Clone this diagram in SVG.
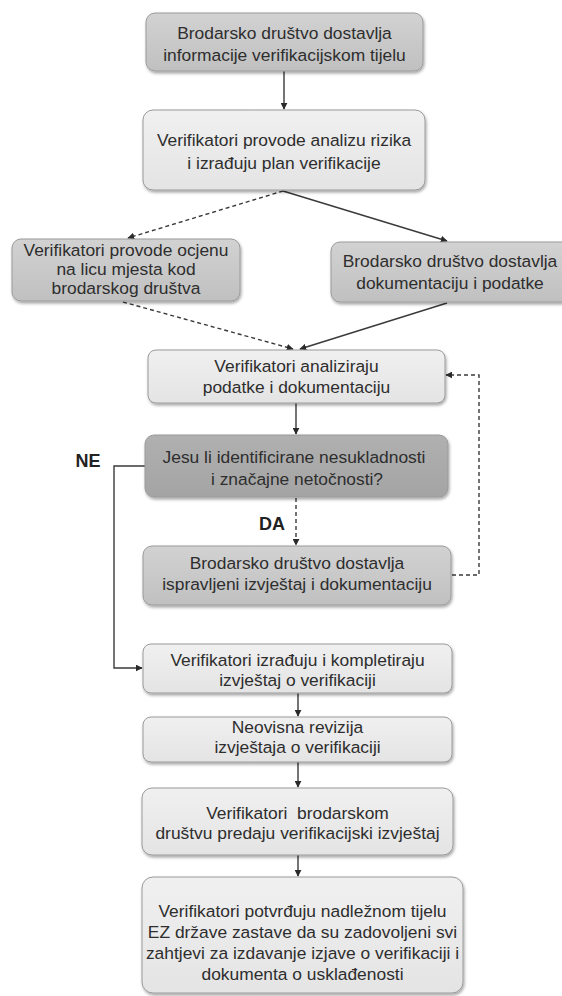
<svg xmlns="http://www.w3.org/2000/svg" width="562" height="996" viewBox="0 0 562 996">
<style>
  .box { stroke: #9a9a9a; stroke-width: 1; filter: url(#sh); }
  .mid { fill: url(#gMid); }
  .light { fill: url(#gLight); }
  .dark { fill: url(#gDark); }
  text { font-family: "Liberation Sans", Arial, sans-serif; font-size: 17.4px; fill: #2e2e2e; text-anchor: middle; }
  .lbl { font-weight: bold; font-size: 18px; fill: #222; }
  .ln { fill: none; stroke: #3a3a3a; stroke-width: 1.4; }
  .dash { stroke-dasharray: 4 3; }
</style>
<defs>
  <linearGradient id="gMid" x1="0" y1="0" x2="0" y2="1">
    <stop offset="0" stop-color="#d2d2d2"/>
    <stop offset="1" stop-color="#c0c0c0"/>
  </linearGradient>
  <linearGradient id="gLight" x1="0" y1="0" x2="0" y2="1">
    <stop offset="0" stop-color="#f0f0f0"/>
    <stop offset="1" stop-color="#e4e4e4"/>
  </linearGradient>
  <linearGradient id="gDark" x1="0" y1="0" x2="0" y2="1">
    <stop offset="0" stop-color="#b0b0b0"/>
    <stop offset="1" stop-color="#a4a4a4"/>
  </linearGradient>
  <filter id="sh" x="-10%" y="-10%" width="120%" height="130%">
    <feDropShadow dx="1" dy="2" stdDeviation="1.5" flood-color="#000" flood-opacity="0.35"/>
  </filter>
  <marker id="ah" viewBox="0 0 10 10" refX="9" refY="5" markerWidth="7" markerHeight="7" markerUnits="userSpaceOnUse" orient="auto">
    <path d="M0,0 L10,5 L0,10 z" fill="#2a2a2a"/>
  </marker>
</defs>

<g id="connectors">
  <path class="ln" d="M284,71 V109" marker-end="url(#ah)"/>
  <path class="ln dash" d="M283,191 L128,238" marker-end="url(#ah)"/>
  <path class="ln" d="M283,191 L447,241" marker-end="url(#ah)"/>
  <path class="ln dash" d="M123,302 L293,349" marker-end="url(#ah)"/>
  <path class="ln" d="M447,303 L300,349" marker-end="url(#ah)"/>
  <path class="ln" d="M296,403 V434" marker-end="url(#ah)"/>
  <path class="ln dash" d="M296,498 V545" marker-end="url(#ah)"/>
  <path class="ln" d="M145,466 H114 V668 H142" marker-end="url(#ah)"/>
  <path class="ln dash" d="M452,575 H479 V375 H446" marker-end="url(#ah)"/>
  <path class="ln" d="M298,693 V716" marker-end="url(#ah)"/>
  <path class="ln" d="M298,762 V787" marker-end="url(#ah)"/>
  <path class="ln" d="M298,855 V876" marker-end="url(#ah)"/>
  <text class="lbl" x="88" y="467">NE</text>
  <text class="lbl" x="272" y="530">DA</text>
</g>

<g id="n1">
  <rect class="box mid" x="146" y="13" width="277" height="58" rx="9"/>
  <text x="284.5" y="39">Brodarsko društvo dostavlja</text>
  <text x="284.5" y="61">informacije verifikacijskom tijelu</text>
</g>

<g id="n2">
  <rect class="box light" x="143" y="110" width="282" height="80" rx="10"/>
  <text x="284" y="146">Verifikatori provode analizu rizika</text>
  <text x="284" y="169">i izrađuju plan verifikacije</text>
</g>

<g id="n3">
  <rect class="box mid" x="12" y="239" width="228" height="62" rx="9"/>
  <text x="126" y="256">Verifikatori provode ocjenu</text>
  <text x="126" y="275">na licu mjesta kod</text>
  <text x="126" y="294">brodarskog društva</text>
</g>

<g id="n4">
  <rect class="box mid" x="331" y="242" width="240" height="60" rx="9"/>
  <text x="450" y="267">Brodarsko društvo dostavlja</text>
  <text x="450" y="289">dokumentaciju i podatke</text>
</g>

<g id="n5">
  <rect class="box light" x="148" y="350" width="297" height="53" rx="8"/>
  <text x="296.5" y="372">Verifikatori analiziraju</text>
  <text x="296.5" y="393">podatke i dokumentaciju</text>
</g>

<g id="n6">
  <rect class="box dark" x="145" y="435" width="303" height="62" rx="9"/>
  <text x="294" y="463">Jesu li identificirane nesukladnosti</text>
  <text x="297" y="485">i značajne netočnosti?</text>
</g>

<g id="n7">
  <rect class="box mid" x="143" y="546" width="308" height="59" rx="9"/>
  <text x="297" y="569">Brodarsko društvo dostavlja</text>
  <text x="297" y="590">ispravljeni izvještaj i dokumentaciju</text>
</g>

<g id="n8">
  <rect class="box light" x="143" y="644" width="309" height="49" rx="8"/>
  <text x="297.5" y="666">Verifikatori izrađuju i kompletiraju</text>
  <text x="297.5" y="686">izvještaj o verifikaciji</text>
</g>

<g id="n9">
  <rect class="box light" x="143" y="717" width="309" height="45" rx="8"/>
  <text x="297.5" y="733">Neovisna revizija</text>
  <text x="297.5" y="753">izvještaja o verifikaciji</text>
</g>

<g id="n10">
  <rect class="box light" x="142" y="788" width="311" height="67" rx="10"/>
  <text x="297.5" y="819">Verifikatori&#160; brodarskom</text>
  <text x="297.5" y="839">društvu predaju verifikacijski izvještaj</text>
</g>

<g id="n11">
  <rect class="box light" x="142" y="877" width="321" height="116" rx="11"/>
  <text x="302.5" y="917">Verifikatori potvrđuju nadležnom tijelu</text>
  <text x="302.5" y="938">EZ države zastave da su zadovoljeni svi</text>
  <text x="302.5" y="959">zahtjevi za izdavanje izjave o verifikaciji i</text>
  <text x="302.5" y="980">dokumenta o usklađenosti</text>
</g>
</svg>
